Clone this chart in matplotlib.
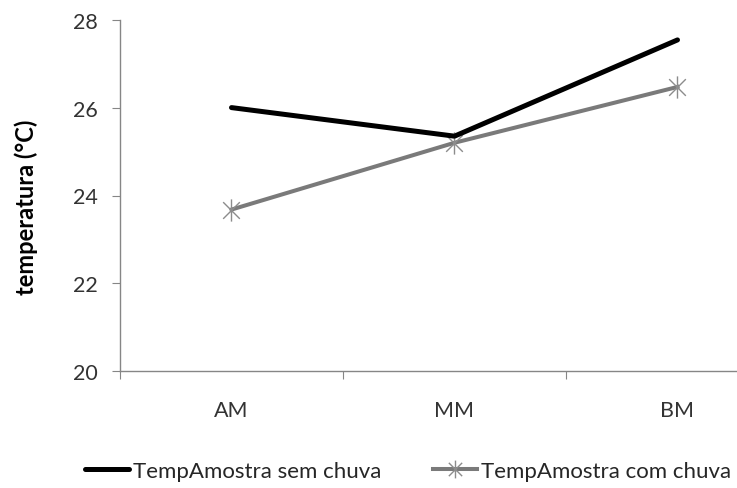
import matplotlib
matplotlib.use("Agg")
import matplotlib.pyplot as plt
from matplotlib.path import Path

categories = ["AM", "MM", "BM"]
sem_chuva = [26.0, 25.35, 27.54]
com_chuva = [23.68, 25.2, 26.47]
series_labels = ["TempAmostra sem chuva", "TempAmostra com chuva"]
y_ticks = [20, 22, 24, 26, 28]

plt.rcParams["font.family"] = ["Lato", "DejaVu Sans"]

# Star marker: vertical bar plus an X
star = Path(
    [(0, -1), (0, 1), (-0.75, -0.75), (0.75, 0.75), (-0.75, 0.75), (0.75, -0.75)],
    [Path.MOVETO, Path.LINETO, Path.MOVETO, Path.LINETO, Path.MOVETO, Path.LINETO],
)

fig = plt.figure(figsize=(7.37, 4.89), dpi=100)
W, H = 737, 489
left, right, top, bottom = 120, 789, 20.7, 372.3
ax = fig.add_axes([left / W, (H - bottom) / H, (right - left) / W, (bottom - top) / H])

x = list(range(len(categories)))
ax.plot(x, sem_chuva, color="black", lw=3.6, solid_capstyle="round",
        label=series_labels[0], zorder=3)
ax.plot(x, com_chuva, color="#7a7a7a", lw=2.9, marker=star, markersize=16,
        markeredgewidth=1.0, markeredgecolor="#8c8c8c", markerfacecolor="none",
        label=series_labels[1], zorder=2)

ax.set_xlim(-0.5, 2.5)
ax.set_ylim(20, 28)
ax.set_yticks(y_ticks)
ax.set_yticklabels([str(v) for v in y_ticks])

# category boundaries carry the tick marks, centres carry the labels
ax.set_xticks([-0.5, 0.5, 1.5, 2.5])
ax.set_xticklabels([])
ax.set_xticks(x, minor=True)
ax.set_xticklabels(categories, minor=True)
ax.tick_params(axis="x", which="minor", length=0, pad=21, labelsize=15.5, colors="#333333")
ax.tick_params(axis="x", which="major", length=6, direction="out", color="#868686")
ax.tick_params(axis="y", length=6, direction="out", color="#868686", labelsize=15.5,
               labelcolor="#333333", pad=10)

for s in ["top", "right"]:
    ax.spines[s].set_visible(False)
for s in ["left", "bottom"]:
    ax.spines[s].set_color("#868686")
    ax.spines[s].set_linewidth(1.0)

fig.text(26 / W, 1 - 207 / H, "temperatura (°C)", rotation=90, ha="center", va="center",
         fontsize=17, fontweight="bold", color="black")

leg = fig.legend(loc="center left", bbox_to_anchor=(85 / W, 1 - 472 / H), ncol=2,
                 frameon=False, fontsize=16, handlelength=2.0, handletextpad=0.18,
                 columnspacing=2.3, borderaxespad=0, borderpad=0, labelcolor="#262626",
                 markerscale=0.8)

fig.savefig("out.png", dpi=100)
